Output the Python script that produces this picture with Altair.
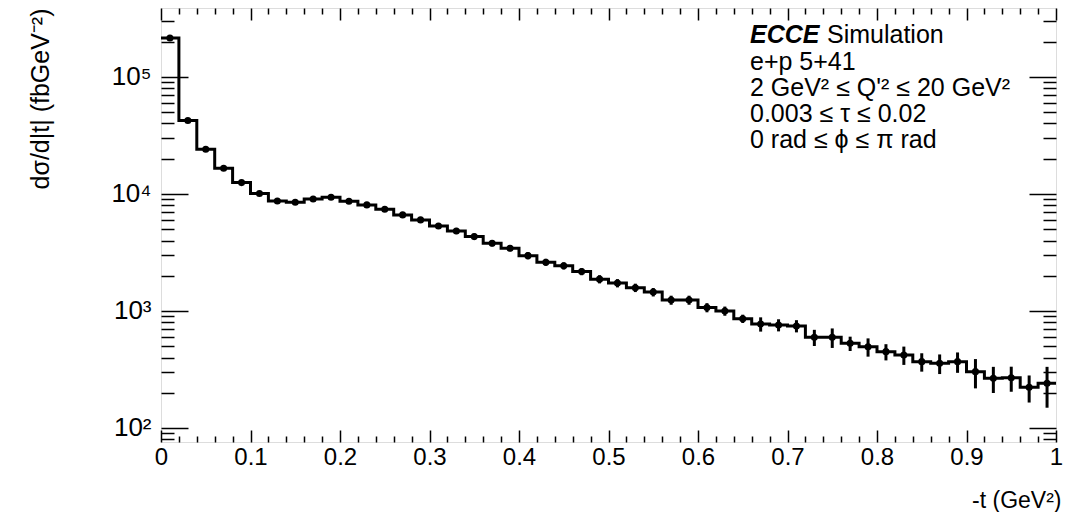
import altair as alt
import pandas as pd

# ---- data ----
bin_low = [0.00, 0.02, 0.04, 0.06, 0.08, 0.10, 0.12, 0.14, 0.16, 0.18,
           0.20, 0.22, 0.24, 0.26, 0.28, 0.30, 0.32, 0.34, 0.36, 0.38,
           0.40, 0.42, 0.44, 0.46, 0.48, 0.50, 0.52, 0.54, 0.56, 0.58,
           0.60, 0.62, 0.64, 0.66, 0.68, 0.70, 0.72, 0.74, 0.76, 0.78,
           0.80, 0.82, 0.84, 0.86, 0.88, 0.90, 0.92, 0.94, 0.96, 0.98]
bin_width = 0.02
xsec = [215000, 42400, 24100, 16600, 12500, 10100, 8710, 8490, 9060, 9370,
        8660, 8060, 7400, 6620, 6000, 5330, 4830, 4320, 3790, 3440,
        2970, 2610, 2430, 2170, 1870, 1730, 1580, 1450, 1240, 1240,
        1070, 1000, 859, 774, 759, 745, 596, 596, 529, 495,
        449, 421, 369, 357, 369, 303, 266, 269, 223, 241]
xsec_err = [2150, 850, 720, 500, 380, 400, 350, 340, 360, 370,
            350, 400, 370, 330, 300, 270, 290, 260, 230, 210,
            210, 180, 170, 150, 150, 140, 130, 120, 110, 110,
            96, 90, 70, 108, 90, 89, 94, 113, 74, 88,
            71, 75, 66, 68, 73, 85, 67, 65, 58, 92]

x_major = [0.0, 0.1, 0.2, 0.3, 0.4, 0.5, 0.6, 0.7, 0.8, 0.9, 1.0]
x_minor = [0.02, 0.04, 0.06, 0.08, 0.12, 0.14, 0.16, 0.18, 0.22, 0.24, 0.26, 0.28,
           0.32, 0.34, 0.36, 0.38, 0.42, 0.44, 0.46, 0.48, 0.52, 0.54, 0.56, 0.58,
           0.62, 0.64, 0.66, 0.68, 0.72, 0.74, 0.76, 0.78, 0.82, 0.84, 0.86, 0.88,
           0.92, 0.94, 0.96, 0.98]
y_major = [100, 1000, 10000, 100000]
y_minor = [80, 90, 200, 300, 400, 500, 600, 700, 800, 900,
           2000, 3000, 4000, 5000, 6000, 7000, 8000, 9000,
           20000, 30000, 40000, 50000, 60000, 70000, 80000, 90000,
           200000, 300000]

text_lines = ["e+p 5+41",
              "2 GeV\u00b2 \u2264 Q'\u00b2 \u2264 20 GeV\u00b2",
              "0.003 \u2264 \u03c4 \u2264 0.02",
              "0 rad \u2264 \u03d5 \u2264 \u03c0 rad"]

# ---- tables ----
df = pd.DataFrame({
    "xc": [b + bin_width / 2 for b in bin_low],
    "v": xsec,
    "lo": [v - e for v, e in zip(xsec, xsec_err)],
    "hi": [v + e for v, e in zip(xsec, xsec_err)],
})
step_df = pd.DataFrame({
    "x": bin_low + [bin_low[-1] + bin_width],
    "y": xsec + [xsec[-1]],
})

FONT = "Liberation Sans, Arial, sans-serif"
W, H = 895, 434
x_scale = alt.Scale(domain=[0, 1], nice=False, zero=False)
y_scale = alt.Scale(type="log", domain=[75.9, 388000], nice=False)

base = alt.Chart(df)

step = alt.Chart(step_df).mark_line(interpolate="step-after", color="black",
                                    strokeWidth=3).encode(
    x=alt.X("x:Q", scale=x_scale, axis=None),
    y=alt.Y("y:Q", scale=y_scale, axis=None),
)
errs = base.mark_rule(color="black", strokeWidth=3).encode(
    x=alt.X("xc:Q", scale=x_scale, axis=None),
    y=alt.Y("lo:Q", scale=y_scale, axis=None),
    y2="hi:Q",
)
pts = base.mark_circle(color="black", size=50, opacity=1).encode(
    x=alt.X("xc:Q", scale=x_scale, axis=None),
    y=alt.Y("v:Q", scale=y_scale, axis=None),
)


def axis_layer(xaxis, yaxis):
    return base.mark_point(opacity=0).encode(
        x=alt.X("xc:Q", scale=x_scale, axis=xaxis),
        y=alt.Y("v:Q", scale=y_scale, axis=yaxis),
    )


common = dict(domain=False, grid=False, tickColor="black", tickWidth=1.5)

ax_bottom_major = alt.Axis(
    orient="bottom", values=x_major, tickSize=12, offset=-12, **common,
    labels=True, labelFont=FONT, labelFontSize=24, labelColor="black",
    labelPadding=3, labelFlush=False, labelOverlap=False,
    labelExpr="datum.value == 0 ? '0' : datum.value == 1 ? '1' : format(datum.value, '.1f')",
    title="-t (GeV\u00b2)", titleFont=FONT, titleFontSize=23, titleFontWeight="normal",
    titleColor="black", titleX=900, titleY=77, titleAlign="right",
    titleBaseline="alphabetic", titleAngle=0,
)
ax_left_major = alt.Axis(
    orient="left", values=y_major, tickSize=27, offset=-27, **common,
    labels=True, labelFont=FONT, labelFontSize=26, labelColor="black",
    labelPadding=10, labelFlush=False, labelOverlap=False, labelBaseline="middle",
    labelExpr="datum.value == 100 ? '10\u00b2' : datum.value == 1000 ? '10\u00b3' : datum.value == 10000 ? '10\u2074' : '10\u2075'",
    title="d\u03c3/d|t| (fbGeV\u207b\u00b2)", titleFont=FONT,
    titleFontSize=25, titleFontWeight="normal", titleColor="black",
    titleX=-148, titleY=0, titleAngle=270, titleAlign="right",
    titleBaseline="middle",
)
ax_bottom_minor = alt.Axis(orient="bottom", values=x_minor, tickSize=6, offset=-6,
                           labels=False, title=None, **common)
ax_left_minor = alt.Axis(orient="left", values=y_minor, tickSize=13, offset=-13,
                         labels=False, title=None, **common)
ax_top_major = alt.Axis(orient="top", values=x_major, tickSize=12, offset=-12,
                        labels=False, title=None, **common)
ax_top_minor = alt.Axis(orient="top", values=x_minor, tickSize=6, offset=-6,
                        labels=False, title=None, **common)
ax_right_major = alt.Axis(orient="right", values=y_major, tickSize=27, offset=-27,
                          labels=False, title=None, **common)
ax_right_minor = alt.Axis(orient="right", values=y_minor, tickSize=13, offset=-13,
                          labels=False, title=None, **common)

axes = [
    axis_layer(ax_bottom_major, ax_left_major),
    axis_layer(ax_bottom_minor, ax_left_minor),
    axis_layer(ax_top_major, ax_right_major),
    axis_layer(ax_top_minor, ax_right_minor),
]

# ---- annotation text ----
TEXT_SIZE = 25
TX = 589


def text_mark(s, x, y, **kw):
    return alt.Chart(pd.DataFrame({"t": [s]})).mark_text(
        align="left", baseline="alphabetic", font=FONT, fontSize=TEXT_SIZE,
        color="black", **kw
    ).encode(text="t:N", x=alt.value(x), y=alt.value(y))


ann_layers = [
    text_mark("ECCE", TX, 35, fontWeight="bold", fontStyle="italic"),
    text_mark("Simulation", TX + 77, 35),
]
for i, line in enumerate(text_lines):
    ann_layers.append(text_mark(line, TX, 62 + 26 * i))

chart = alt.layer(
    *axes, step, errs, pts, *ann_layers
).resolve_axis(
    x="independent", y="independent"
).properties(
    width=W, height=H,
    autosize=alt.AutoSizeParams(type="none"),
    padding={"left": 153, "top": 0, "right": 7, "bottom": 70},
).configure_view(
    stroke="black", strokeWidth=2, fill="white"
).configure(background="white")

chart.save("out.html", embed_options={"renderer": "svg", "actions": False})
